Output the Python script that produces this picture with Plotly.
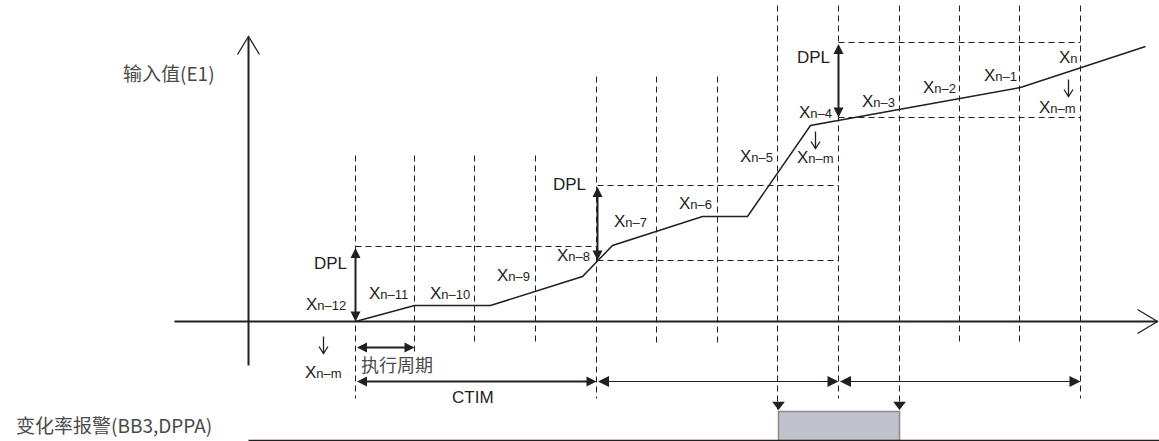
import plotly.graph_objects as go

W, H = 1159, 441

# sampling instants (vertical dashed guides) and their extents
grid_x = [355, 414, 474, 535, 596, 656, 717, 777, 838, 899, 959, 1019, 1080]
grid_top = [155, 155, 155, 155, 76, 76, 76, 5, 5, 5, 5, 5, 5]
grid_bottom = [398, 352, 342, 342, 398, 342, 342, 409, 398, 409, 342, 342, 398]

# input value curve (E1)
signal_x = [355, 414, 490, 582, 612, 702, 747, 810, 1020, 1145]
signal_y = [321, 305, 305, 276, 245, 216, 216, 125, 87, 46]

# DPL bands: (x start, x end, y)
band_x0 = [355, 597, 597, 838, 838]
band_x1 = [596, 838, 838, 1080, 1080]
band_y = [246, 185, 260, 42, 117]

# double arrows: x0, y0, x1, y1, width
arr_x0 = [355, 597, 838, 355, 355, 596, 838]
arr_y0 = [246, 185, 42, 347, 381, 381, 381]
arr_x1 = [355, 597, 838, 414, 596, 838, 1080]
arr_y1 = [321, 260, 117, 347, 381, 381, 381]
arr_w = [2, 2, 2, 2, 2, 1, 1]

# alarm output
alarm_on, alarm_off = 778, 899
alarm_top, alarm_base = 411, 440

# labels: (main, subscript, x, y)
x_labels = [
    ("X", "n\u201312", 325, 304), ("X", "n\u201311", 388, 293),
    ("X", "n\u201310", 449, 293), ("X", "n\u20139", 513, 275),
    ("X", "n\u20138", 573, 255), ("X", "n\u20137", 630, 221),
    ("X", "n\u20136", 695, 203), ("X", "n\u20135", 756, 156),
    ("X", "n\u2013m", 815, 157), ("X", "n\u20134", 815, 112),
    ("X", "n\u20133", 878, 101), ("X", "n\u20132", 939, 87),
    ("X", "n\u20131", 1000, 75), ("X", "n", 1068, 57),
    ("X", "n\u2013m", 1057, 107), ("X", "n\u2013m", 323, 372),
]
# small "shifted-to" arrows: x, top, bottom
down_x = [815, 1068, 323]
down_top = [131, 79, 336]
down_bot = [148, 96, 353]
dpl_x = [330, 569, 813]
dpl_y = [263, 184, 57]

INK = "#231f20"
GREY_TXT = "#4a4a4a"
LATIN = "Liberation Sans, Arial, sans-serif"
CJK = "Noto Sans CJK SC, sans-serif"

fig = go.Figure()

# dashed guides
gx, gy = [], []
for x, t, b in zip(grid_x, grid_top, grid_bottom):
    gx += [x, x, None]
    gy += [t, b, None]
for x0, x1, y in zip(band_x0, band_x1, band_y):
    gx += [x0, x1, None]
    gy += [y, y, None]
fig.add_trace(go.Scatter(x=gx, y=gy, mode="lines",
                         line=dict(color=INK, width=1, dash="6px,4px")))

# axes
fig.add_trace(go.Scatter(x=[248, 248], y=[37, 365], mode="lines", line=dict(color=INK, width=2)))
fig.add_trace(go.Scatter(x=[237, 248, 259], y=[54, 36, 54], mode="lines", line=dict(color=INK, width=1.3)))
fig.add_trace(go.Scatter(x=[174, 1157], y=[321, 321], mode="lines", line=dict(color=INK, width=2)))
fig.add_trace(go.Scatter(x=[1137, 1157, 1137], y=[309, 321, 333], mode="lines", line=dict(color=INK, width=1.3)))

# signal
fig.add_trace(go.Scatter(x=signal_x, y=signal_y, mode="lines", line=dict(color=INK, width=1.5)))

# thin down arrows (stem + open head)
dx, dy = [], []
for x, t, b in zip(down_x, down_top, down_bot):
    dx += [x, x, None, x - 4.5, x, x + 4.5, None]
    dy += [t, b, None, b - 7, b, b - 7, None]
fig.add_trace(go.Scatter(x=dx, y=dy, mode="lines", line=dict(color=INK, width=1.3)))

# alarm box + baseline
fig.add_trace(go.Scatter(x=[alarm_on, alarm_on, alarm_off, alarm_off],
                         y=[alarm_base, alarm_top, alarm_top, alarm_base],
                         mode="lines", fill="toself", fillcolor="#bfc2c9",
                         line=dict(color="#8a8a8a", width=1.5)))
fig.add_trace(go.Scatter(x=[248, 1159], y=[alarm_base, alarm_base], mode="lines",
                         line=dict(color=INK, width=1.3)))
fig.add_trace(go.Scatter(x=[alarm_on, alarm_off], y=[404, 404], mode="markers",
                         marker=dict(symbol="triangle-down", size=11, color=INK)))

# double arrows
for x0, y0, x1, y1, w in zip(arr_x0, arr_y0, arr_x1, arr_y1, arr_w):
    fig.add_annotation(x=x1, y=y1, ax=x0, ay=y0, xref="x", yref="y", axref="x", ayref="y",
                       text="", showarrow=True, arrowside="end+start", arrowhead=2,
                       arrowsize=1.0 if w == 2 else 2.2, arrowwidth=w, arrowcolor=INK)

# labels
for main, sub, x, y in x_labels:
    fig.add_annotation(x=x, y=y, xref="x", yref="y", showarrow=False,
                       text=f"{main}<span style='font-size:13px'>{sub}</span>",
                       font=dict(family=LATIN, size=17, color=INK))
for x, y in zip(dpl_x, dpl_y):
    fig.add_annotation(x=x, y=y, showarrow=False, text="DPL",
                       font=dict(family=LATIN, size=17, color=INK))
fig.add_annotation(x=472, y=397, showarrow=False, text="CTIM",
                   font=dict(family=LATIN, size=17, color=INK))
fig.add_annotation(x=168, y=72, showarrow=False, text="输入值(E1)",
                   font=dict(family=CJK, size=19, color=GREY_TXT))
fig.add_annotation(x=396, y=363, showarrow=False, text="执行周期",
                   font=dict(family=CJK, size=18, color=GREY_TXT))
fig.add_annotation(x=113, y=424, showarrow=False, text="变化率报警(BB3,DPPA)",
                   font=dict(family=CJK, size=19, color=GREY_TXT))

# half-pixel offset keeps 1px guides crisp
fig.update_layout(
    width=W, height=H, autosize=False,
    margin=dict(l=0, r=0, t=0, b=0),
    paper_bgcolor="white", plot_bgcolor="white",
    showlegend=False,
    xaxis=dict(range=[-0.5, W - 0.5], visible=False, fixedrange=True),
    yaxis=dict(range=[H - 0.5, -0.5], visible=False, fixedrange=True),
)

fig.write_html("out.html", config={"displayModeBar": False},
               post_script="document.body.style.margin='0';")
